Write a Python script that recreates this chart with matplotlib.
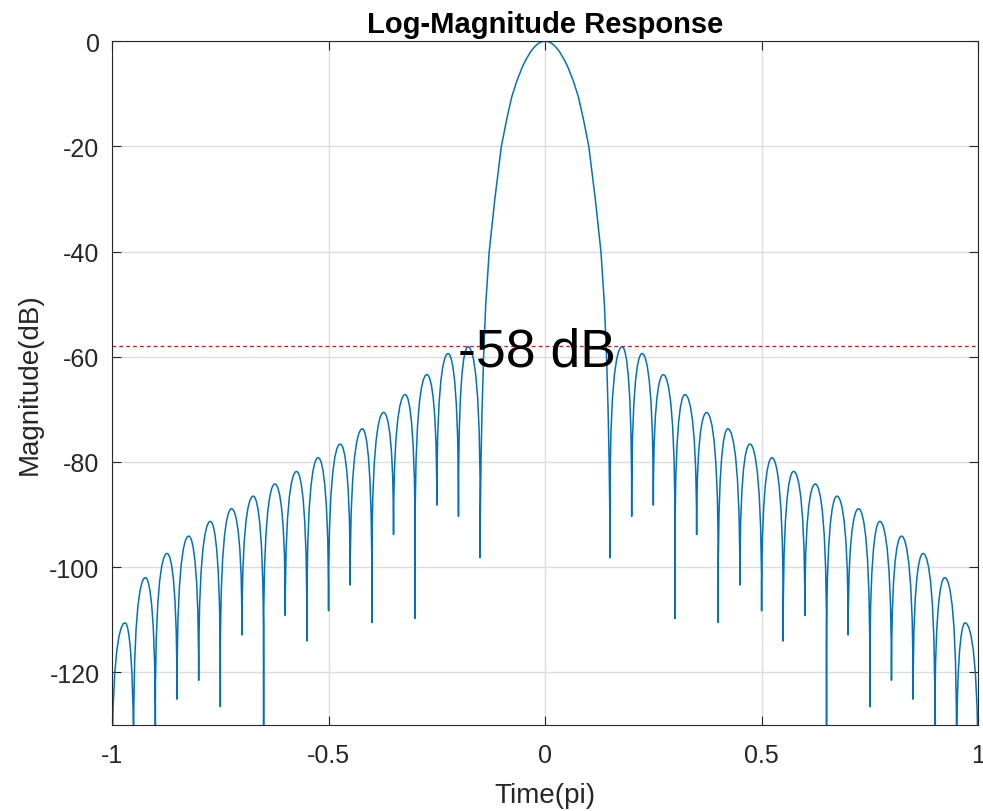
import matplotlib
matplotlib.use("Agg")
import matplotlib.pyplot as plt
from matplotlib.path import Path
from matplotlib.patches import PathPatch

plt.rcParams['font.family'] = ['Liberation Sans', 'DejaVu Sans']
plt.rcParams['axes.unicode_minus'] = False

# (right half, the response is symmetric)
null_x = [0.15, 0.20, 0.25, 0.30, 0.35, 0.40, 0.45, 0.50, 0.55, 0.60,
          0.65, 0.70, 0.75, 0.80, 0.85, 0.90, 0.95, 1.00]
null_db = [-98.2, -90.3, -88.2, -109.7, -93.8, -110.5, -103.4, -108.3, -114.0, -109.2,
           -150.0, -112.9, -126.5, -121.5, -125.1, -150.0, -150.0, -150.0]
peak_x = [0.178, 0.224, 0.273, 0.323, 0.373, 0.422, 0.473, 0.524, 0.574,
          0.624, 0.674, 0.724, 0.773, 0.823, 0.873, 0.923, 0.970]
peak_db = [-58.1, -59.4, -63.4, -67.2, -70.6, -73.7, -76.6, -79.2, -81.8,
           -84.2, -86.5, -88.9, -91.3, -94.1, -97.4, -102.0, -110.6]
# main lobe: top (0 dB) and the flank from -5 dB down to the first null
main_top_db = 0
main_x = [0.053, 0.065, 0.077, 0.089, 0.101, 0.116, 0.129, 0.137,
          0.142, 0.1455, 0.148, 0.1495]
main_db = [-5, -7.5, -10.6, -15, -20, -30, -40, -50, -60, -70, -80, -90]

sidelobe_level = -58
xticks = [-1, -0.5, 0, 0.5, 1]
xtick_labels = ['-1', '-0.5', '0', '0.5', '1']
yticks = [0, -20, -40, -60, -80, -100, -120]
ytick_labels = ['0', '-20', '-40', '-60', '-80', '-100', '-120']


def add_lobes(verts, codes, nx, nd, px, pd):
    # each sidelobe drawn as two bezier halves between its nulls
    for i in range(len(px)):
        x0, d0, x1, d1 = nx[i], nd[i], nx[i + 1], nd[i + 1]
        xp, p = px[i], pd[i]
        y0 = max(d0, p - 30)
        y1 = max(d1, p - 30)
        verts += [(x0, y0), (x0, p), (x0 + 0.87 * (xp - x0), p), (xp, p),
                  (x1 - 0.87 * (x1 - xp), p), (x1, p), (x1, y1), (x1, d1)]
        codes += [Path.LINETO] + [Path.CURVE4] * 6 + [Path.LINETO]


left_nx = [-v for v in null_x[::-1]]
left_nd = null_db[::-1]
left_px = [-v for v in peak_x[::-1]]
left_pd = peak_db[::-1]

verts = [(left_nx[0], left_nd[0])]
codes = [Path.MOVETO]
add_lobes(verts, codes, left_nx, left_nd, left_px, left_pd)
# left flank of main lobe
for x, d in zip(main_x[::-1], main_db[::-1]):
    verts.append((-x, d))
    codes.append(Path.LINETO)
# rounded top: quadratic bezier whose apex sits at main_top_db
verts += [(0, 2 * main_top_db - main_db[0]), (main_x[0], main_db[0])]
codes += [Path.CURVE3, Path.CURVE3]
for x, d in zip(main_x[1:], main_db[1:]):
    verts.append((x, d))
    codes.append(Path.LINETO)
verts.append((null_x[0], null_db[0]))
codes.append(Path.LINETO)
add_lobes(verts, codes, null_x, null_db, peak_x, peak_db)

fig = plt.figure(figsize=(9.83, 8.12), dpi=100)
ax = fig.add_axes([0.114, 0.106, 0.881, 0.842])

ax.add_patch(PathPatch(Path(verts, codes), fill=False, edgecolor='#0072BD',
                       linewidth=1.1, joinstyle='round'))
ax.axhline(sidelobe_level, color='#FF0000', linestyle=(0, (3, 2.5)), linewidth=0.9)
ax.annotate('-58 dB', xy=(-0.2, sidelobe_level), xytext=(0, -4), textcoords='offset points',
            fontsize=38.5, ha='left', va='center', color='black')

ax.set_xlim(-1, 1)
ax.set_ylim(-130, 0)
ax.set_xticks(xticks)
ax.set_xticklabels(xtick_labels)
ax.set_yticks(yticks)
ax.set_yticklabels(ytick_labels)
ax.grid(True, color='#DCDCDC', linewidth=1.0)
ax.set_axisbelow(True)
ax.tick_params(direction='in', top=True, right=True, length=6.5, width=0.8,
               colors='#262626', labelsize=18, pad=9)
ax.tick_params(axis='x', pad=13)
for s in ax.spines.values():
    s.set_color('#262626')
    s.set_linewidth(0.8)

ax.set_title('Log-Magnitude Response', fontsize=21, fontweight='bold', pad=7)
ax.set_xlabel('Time(pi)', fontsize=20, color='#262626', labelpad=11)
ax.set_ylabel('Magnitude(dB)', fontsize=20, color='#262626', labelpad=5)

fig.savefig('out.png', dpi=100)
